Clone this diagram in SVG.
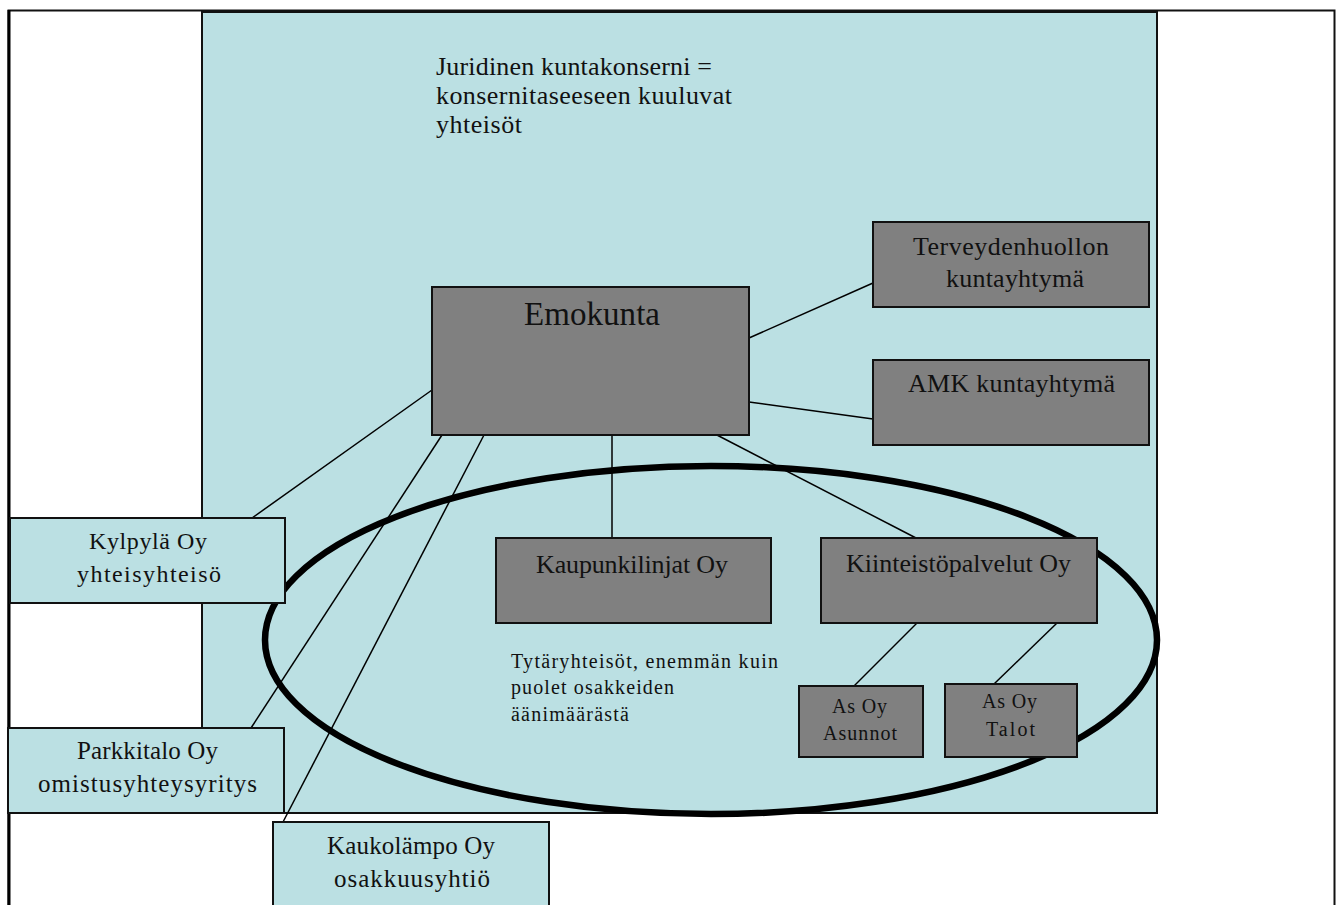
<svg xmlns="http://www.w3.org/2000/svg" width="1341" height="905" viewBox="0 0 1341 905">
<style>
text{font-family:"Liberation Serif","Times New Roman",serif;fill:#111}
.dark{fill:#808080;stroke:#111;stroke-width:2}
.lite{fill:#BBE0E3;stroke:#111;stroke-width:2}
.c line{stroke:#000;stroke-width:1.5}
</style>
<rect x="0" y="0" width="1341" height="905" fill="#fff"/>
<rect x="8.5" y="10.5" width="1326" height="900" fill="#fff" stroke="#111" stroke-width="2"/>
<line x1="9" y1="10" x2="9" y2="905" stroke="#000" stroke-width="3"/>
<rect id="konserni" x="202" y="12" width="955" height="801" fill="#BBE0E3" stroke="#111" stroke-width="2"/>
<g id="otsikko" font-size="26">
<text x="436" y="75" textLength="276" lengthAdjust="spacing">Juridinen kuntakonserni =</text>
<text x="436" y="104" textLength="296" lengthAdjust="spacing">konsernitaseeseen kuuluvat</text>
<text x="436" y="133" textLength="86" lengthAdjust="spacing">yhteisöt</text>
</g>
<ellipse id="tytar" cx="711" cy="640" rx="446" ry="174" fill="none" stroke="#000" stroke-width="6.5"/>
<g class="c">
<line x1="749" y1="338" x2="873" y2="283"/>
<line x1="749" y1="402" x2="873" y2="419"/>
<line x1="432" y1="390" x2="252" y2="518"/>
<line x1="442" y1="435" x2="251" y2="728"/>
<line x1="484" y1="435" x2="283" y2="822"/>
<line x1="612" y1="435" x2="612" y2="538"/>
<line x1="715" y1="434" x2="916" y2="538"/>
<line x1="917" y1="623" x2="854" y2="686"/>
<line x1="1057" y1="623" x2="994" y2="684"/>
</g>
<g id="emokunta"><rect class="dark" x="432" y="287" width="317" height="148"/><text x="524" y="325" font-size="33" textLength="136" lengthAdjust="spacing">Emokunta</text></g>
<g id="terveys" font-size="26"><rect class="dark" x="873" y="222" width="276" height="85"/><text x="913" y="255" textLength="196" lengthAdjust="spacing">Terveydenhuollon</text><text x="946" y="287" textLength="138" lengthAdjust="spacing">kuntayhtymä</text></g>
<g id="amk" font-size="26"><rect class="dark" x="873" y="360" width="276" height="85"/><text x="908" y="392" textLength="207" lengthAdjust="spacing">AMK kuntayhtymä</text></g>
<g id="kylpyla" font-size="24"><rect class="lite" x="10" y="518" width="275" height="85"/><text x="89" y="549" textLength="118" lengthAdjust="spacing">Kylpylä Oy</text><text x="77" y="582" textLength="144" lengthAdjust="spacing">yhteisyhteisö</text></g>
<g id="parkkitalo" font-size="25"><rect class="lite" x="8" y="728" width="276" height="85"/><text x="77" y="759" textLength="141" lengthAdjust="spacing">Parkkitalo Oy</text><text x="38" y="792" textLength="219" lengthAdjust="spacing">omistusyhteysyritys</text></g>
<g id="kaukolampo" font-size="25"><rect class="lite" x="273" y="822" width="276" height="95"/><text x="327" y="854" textLength="168" lengthAdjust="spacing">Kaukolämpo Oy</text><text x="334" y="887" textLength="156" lengthAdjust="spacing">osakkuusyhtiö</text></g>
<g id="kaupunkilinjat" font-size="26"><rect class="dark" x="496" y="538" width="275" height="85"/><text x="536" y="573" textLength="192" lengthAdjust="spacing">Kaupunkilinjat Oy</text></g>
<g id="kiinteisto" font-size="26"><rect class="dark" x="821" y="538" width="276" height="85"/><text x="846" y="572" textLength="225" lengthAdjust="spacing">Kiinteistöpalvelut Oy</text></g>
<g id="tytar-teksti" font-size="20">
<text x="511" y="668" textLength="267" lengthAdjust="spacing">Tytäryhteisöt, enemmän kuin</text>
<text x="511" y="694" textLength="163" lengthAdjust="spacing">puolet osakkeiden</text>
<text x="511" y="721" textLength="118" lengthAdjust="spacing">äänimäärästä</text>
</g>
<g id="asunnot" font-size="20"><rect class="dark" x="799" y="686" width="124" height="71"/><text x="832" y="713" textLength="55" lengthAdjust="spacing">As Oy</text><text x="823" y="740" textLength="74" lengthAdjust="spacing">Asunnot</text></g>
<g id="talot" font-size="20"><rect class="dark" x="945" y="684" width="132" height="73"/><text x="982" y="708" textLength="55" lengthAdjust="spacing">As Oy</text><text x="986" y="736" textLength="49" lengthAdjust="spacing">Talot</text></g>
</svg>
